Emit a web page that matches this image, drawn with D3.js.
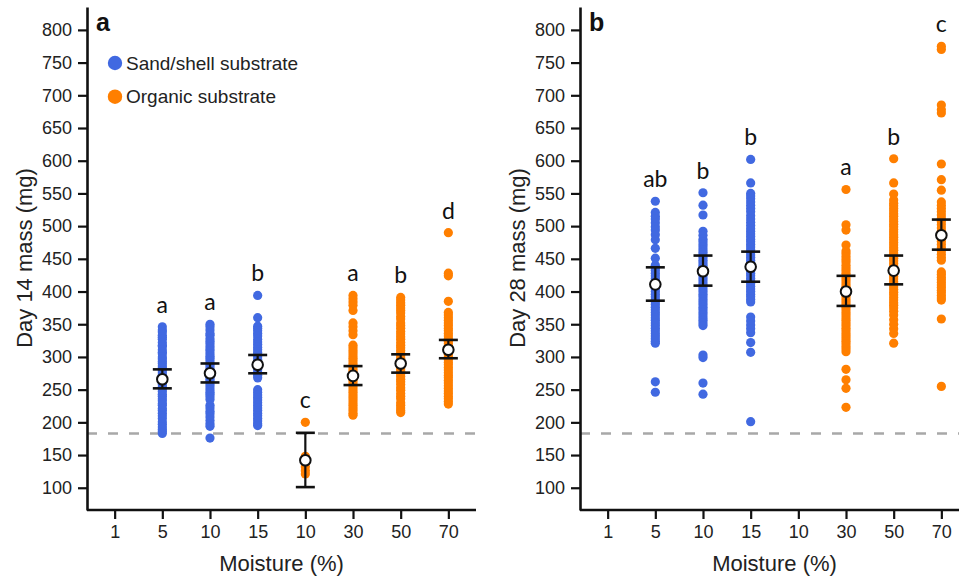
<!DOCTYPE html>
<html>
<head>
<meta charset="utf-8">
<script src="https://cdn.jsdelivr.net/npm/d3@7"></script>
<style>
  body { margin: 0; background: #fff; }
  svg { display: block; font-family: "Liberation Sans", Arial, sans-serif; }
</style>
</head>
<body>
<svg width="959" height="577"></svg>
<script>
// moisture groups (x axis), left three blue = sand/shell, rest orange = organic
const moistureLabels = ["1", "5", "10", "15", "10", "30", "50", "70"];
const substrate = [null, "sand", "sand", "sand", "organic", "organic", "organic", "organic"];

// Day 14 individual masses (mg)
const day14Points = [
  [],
  [346, 341, 338, 333, 330, 327, 322, 318, 316, 311, 307, 305, 300, 297, 293, 290, 286, 283, 279, 276, 272, 269, 265, 262, 258, 254, 251, 247, 243, 240, 236, 233, 229, 226, 221, 218, 214, 210, 206, 201, 197, 193, 189, 186, 183],
  [350, 346, 341, 336, 333, 328, 324, 320, 316, 312, 309, 305, 301, 298, 294, 290, 287, 283, 279, 276, 272, 268, 265, 262, 258, 254, 250, 246, 243, 239, 235, 226, 222, 217, 213, 208, 203, 198, 194, 176],
  [394, 360, 347, 344, 340, 336, 332, 327, 323, 319, 315, 311, 307, 304, 300, 296, 292, 288, 284, 280, 276, 272, 268, 250, 246, 242, 238, 234, 230, 226, 222, 218, 214, 210, 206, 202, 198, 195],
  [200, 148, 140, 132, 126, 121],
  [394, 389, 384, 379, 371, 352, 346, 340, 334, 318, 314, 310, 306, 302, 298, 294, 290, 286, 282, 278, 274, 270, 266, 262, 258, 254, 250, 246, 242, 238, 234, 230, 226, 222, 218, 214, 211],
  [391, 387, 383, 379, 375, 371, 367, 362, 358, 352, 348, 344, 339, 335, 331, 327, 322, 318, 314, 310, 306, 302, 298, 294, 290, 286, 282, 278, 274, 270, 266, 262, 258, 253, 249, 244, 240, 236, 230, 226, 222, 218, 215],
  [490, 428, 424, 385, 368, 364, 360, 356, 352, 348, 344, 340, 336, 332, 328, 324, 320, 316, 312, 308, 304, 300, 296, 292, 288, 284, 280, 276, 272, 268, 264, 260, 256, 252, 248, 244, 240, 236, 232, 228]
];
const day14Mean  = [null, 266, 275, 288, 142, 271, 290, 311];
const day14Upper = [null, 281, 290, 303, 184, 286, 304, 326];
const day14Lower = [null, 252, 261, 275, 101, 257, 276, 298];
const day14Letters = ["", "a", "a", "b", "c", "a", "b", "d"];

// Day 28 individual masses (mg)
const day28Points = [
  [],
  [538, 521, 515, 511, 505, 499, 494, 487, 479, 466, 451, 440, 436, 432, 428, 424, 420, 416, 412, 408, 404, 400, 396, 392, 388, 384, 380, 376, 372, 368, 364, 360, 356, 352, 348, 344, 340, 336, 332, 328, 324, 321, 262, 246],
  [551, 532, 517, 492, 486, 480, 476, 472, 468, 464, 460, 456, 452, 448, 444, 440, 436, 432, 428, 424, 420, 416, 412, 408, 404, 400, 396, 392, 388, 384, 380, 376, 372, 368, 364, 360, 356, 352, 348, 303, 299, 260, 243],
  [602, 566, 550, 546, 542, 537, 532, 527, 522, 516, 511, 506, 501, 496, 492, 488, 484, 480, 476, 472, 468, 464, 460, 456, 452, 448, 444, 440, 436, 432, 428, 424, 420, 416, 412, 408, 404, 400, 396, 392, 388, 384, 361, 355, 349, 343, 337, 322, 307, 201],
  [],
  [556, 502, 494, 471, 462, 458, 453, 449, 445, 440, 436, 432, 428, 424, 420, 416, 412, 408, 404, 400, 396, 392, 388, 384, 380, 376, 372, 368, 364, 360, 356, 352, 348, 344, 340, 336, 332, 328, 324, 320, 316, 312, 308, 281, 265, 252, 223],
  [603, 566, 549, 540, 535, 531, 527, 523, 519, 515, 511, 507, 503, 499, 495, 491, 487, 483, 479, 475, 471, 467, 463, 459, 455, 451, 447, 443, 439, 435, 431, 427, 423, 419, 415, 411, 407, 403, 399, 395, 391, 387, 383, 379, 375, 370, 364, 357, 350, 343, 336, 321],
  [775, 770, 685, 678, 673, 595, 571, 555, 537, 532, 527, 522, 517, 512, 507, 502, 497, 492, 487, 482, 477, 472, 467, 462, 457, 452, 448, 430, 426, 422, 418, 414, 410, 406, 402, 398, 394, 390, 387, 358, 255]
];
const day28Mean  = [null, 411, 431, 438, null, 400, 432, 486];
const day28Upper = [null, 437, 455, 461, null, 424, 455, 510];
const day28Lower = [null, 386, 409, 415, null, 378, 411, 464];
const day28Letters = ["", "ab", "b", "b", "", "a", "b", "c"];

const yTicks = d3.range(100, 801, 50);
const startMass = 183; // dashed reference line

const colors = { sand: "#4169E1", organic: "#FF7F00" };
const legendItems = [["Sand/shell substrate", "sand"], ["Organic substrate", "organic"]];

const svg = d3.select("svg");

const yScale = d3.scaleLinear().domain([66, 835]).range([510, 7]);

function drawPanel(opt) {
  const g = svg.append("g");
  const x = d3.scalePoint()
    .domain(d3.range(moistureLabels.length))
    .range([opt.left, opt.left + 389])
    .padding(0.58);

  // dashed line for starting mass
  g.append("line")
    .attr("x1", opt.left).attr("x2", opt.right)
    .attr("y1", yScale(startMass)).attr("y2", yScale(startMass))
    .attr("stroke", "#a8a8a8").attr("stroke-width", 2.5)
    .attr("stroke-dasharray", "10,11");

  // raw points
  opt.points.forEach((vals, i) => {
    g.selectAll(null).data(vals).enter().append("circle")
      .attr("cx", x(i))
      .attr("cy", d => yScale(d))
      .attr("r", 4.6)
      .attr("fill", colors[substrate[i]]);
  });

  // error bars + means
  const idx = d3.range(moistureLabels.length).filter(i => opt.mean[i] != null);
  idx.forEach(i => {
    const cx = x(i);
    g.append("line").attr("x1", cx).attr("x2", cx)
      .attr("y1", yScale(opt.lower[i])).attr("y2", yScale(opt.upper[i]))
      .attr("stroke", "#111").attr("stroke-width", 2.2);
    [opt.lower[i], opt.upper[i]].forEach(v => {
      g.append("line").attr("x1", cx - 9.5).attr("x2", cx + 9.5)
        .attr("y1", yScale(v)).attr("y2", yScale(v))
        .attr("stroke", "#111").attr("stroke-width", 2.6);
    });
    g.append("circle").attr("cx", cx).attr("cy", yScale(opt.mean[i]))
      .attr("r", 5.3).attr("fill", "#fff")
      .attr("stroke", "#111").attr("stroke-width", 2);
  });

  // significance letters
  opt.points.forEach((vals, i) => {
    if (!opt.letters[i]) return;
    g.append("text")
      .attr("x", x(i))
      .attr("y", yScale(d3.max(vals)) - 14)
      .attr("text-anchor", "middle")
      .style("font-family", "Lato, 'Open Sans', sans-serif")
      .style("font-size", "23px")
      .attr("fill", "#111")
      .text(opt.letters[i]);
  });

  // axes
  const yAxis = g.append("g")
    .attr("transform", "translate(" + opt.left + ",0)")
    .call(d3.axisLeft(yScale).tickValues(yTicks).tickSize(9).tickPadding(6).tickSizeOuter(0));
  const xAxis = g.append("g")
    .attr("transform", "translate(0,510)")
    .call(d3.axisBottom(x).tickFormat(i => moistureLabels[i]).tickSize(9).tickPadding(6).tickSizeOuter(0));
  [yAxis, xAxis].forEach(a => {
    a.select(".domain").attr("stroke", "#111").attr("stroke-width", 2.6);
    a.selectAll(".tick line").attr("stroke", "#111").attr("stroke-width", 2.2);
    a.selectAll(".tick text").attr("fill", "#222")
      .style("font-family", "'Liberation Sans', Arial, sans-serif").style("font-size", "18px");
  });
  xAxis.select(".domain").attr("d", "M" + opt.left + ",0H" + (opt.left + 389));

  // axis titles
  g.append("text")
    .attr("transform", "translate(" + opt.yTitleX + ",258) rotate(-90)")
    .attr("text-anchor", "middle").attr("dy", "0.35em")
    .style("font-size", "22px").attr("fill", "#222")
    .text(opt.yTitle);
  g.append("text")
    .attr("x", opt.left + 194.5).attr("y", 570.5)
    .attr("text-anchor", "middle")
    .style("font-size", "22px").attr("fill", "#222")
    .text("Moisture (%)");

  // panel tag
  g.append("text")
    .attr("x", opt.left + 9).attr("y", 31)
    .style("font-size", "25px").style("font-weight", "bold").attr("fill", "#111")
    .text(opt.tag);

  return g;
}

const gA = drawPanel({
  left: 87, right: 476, tag: "a", yTitle: "Day 14 mass (mg)", yTitleX: 24,
  points: day14Points, mean: day14Mean, upper: day14Upper, lower: day14Lower, letters: day14Letters
});

drawPanel({
  left: 580, right: 959, tag: "b", yTitle: "Day 28 mass (mg)", yTitleX: 517,
  points: day28Points, mean: day28Mean, upper: day28Upper, lower: day28Lower, letters: day28Letters
});

// legend in panel a
const legend = gA.selectAll(".legend").data(legendItems).enter().append("g")
  .attr("class", "legend")
  .attr("transform", (d, i) => "translate(115," + (63 + i * 33.7) + ")");
legend.append("circle").attr("r", 7.2).attr("fill", d => colors[d[1]]);
legend.append("text").attr("x", 11).attr("dy", "0.35em")
  .style("font-size", "19px").attr("fill", "#222")
  .text(d => d[0]);
</script>
</body>
</html>
